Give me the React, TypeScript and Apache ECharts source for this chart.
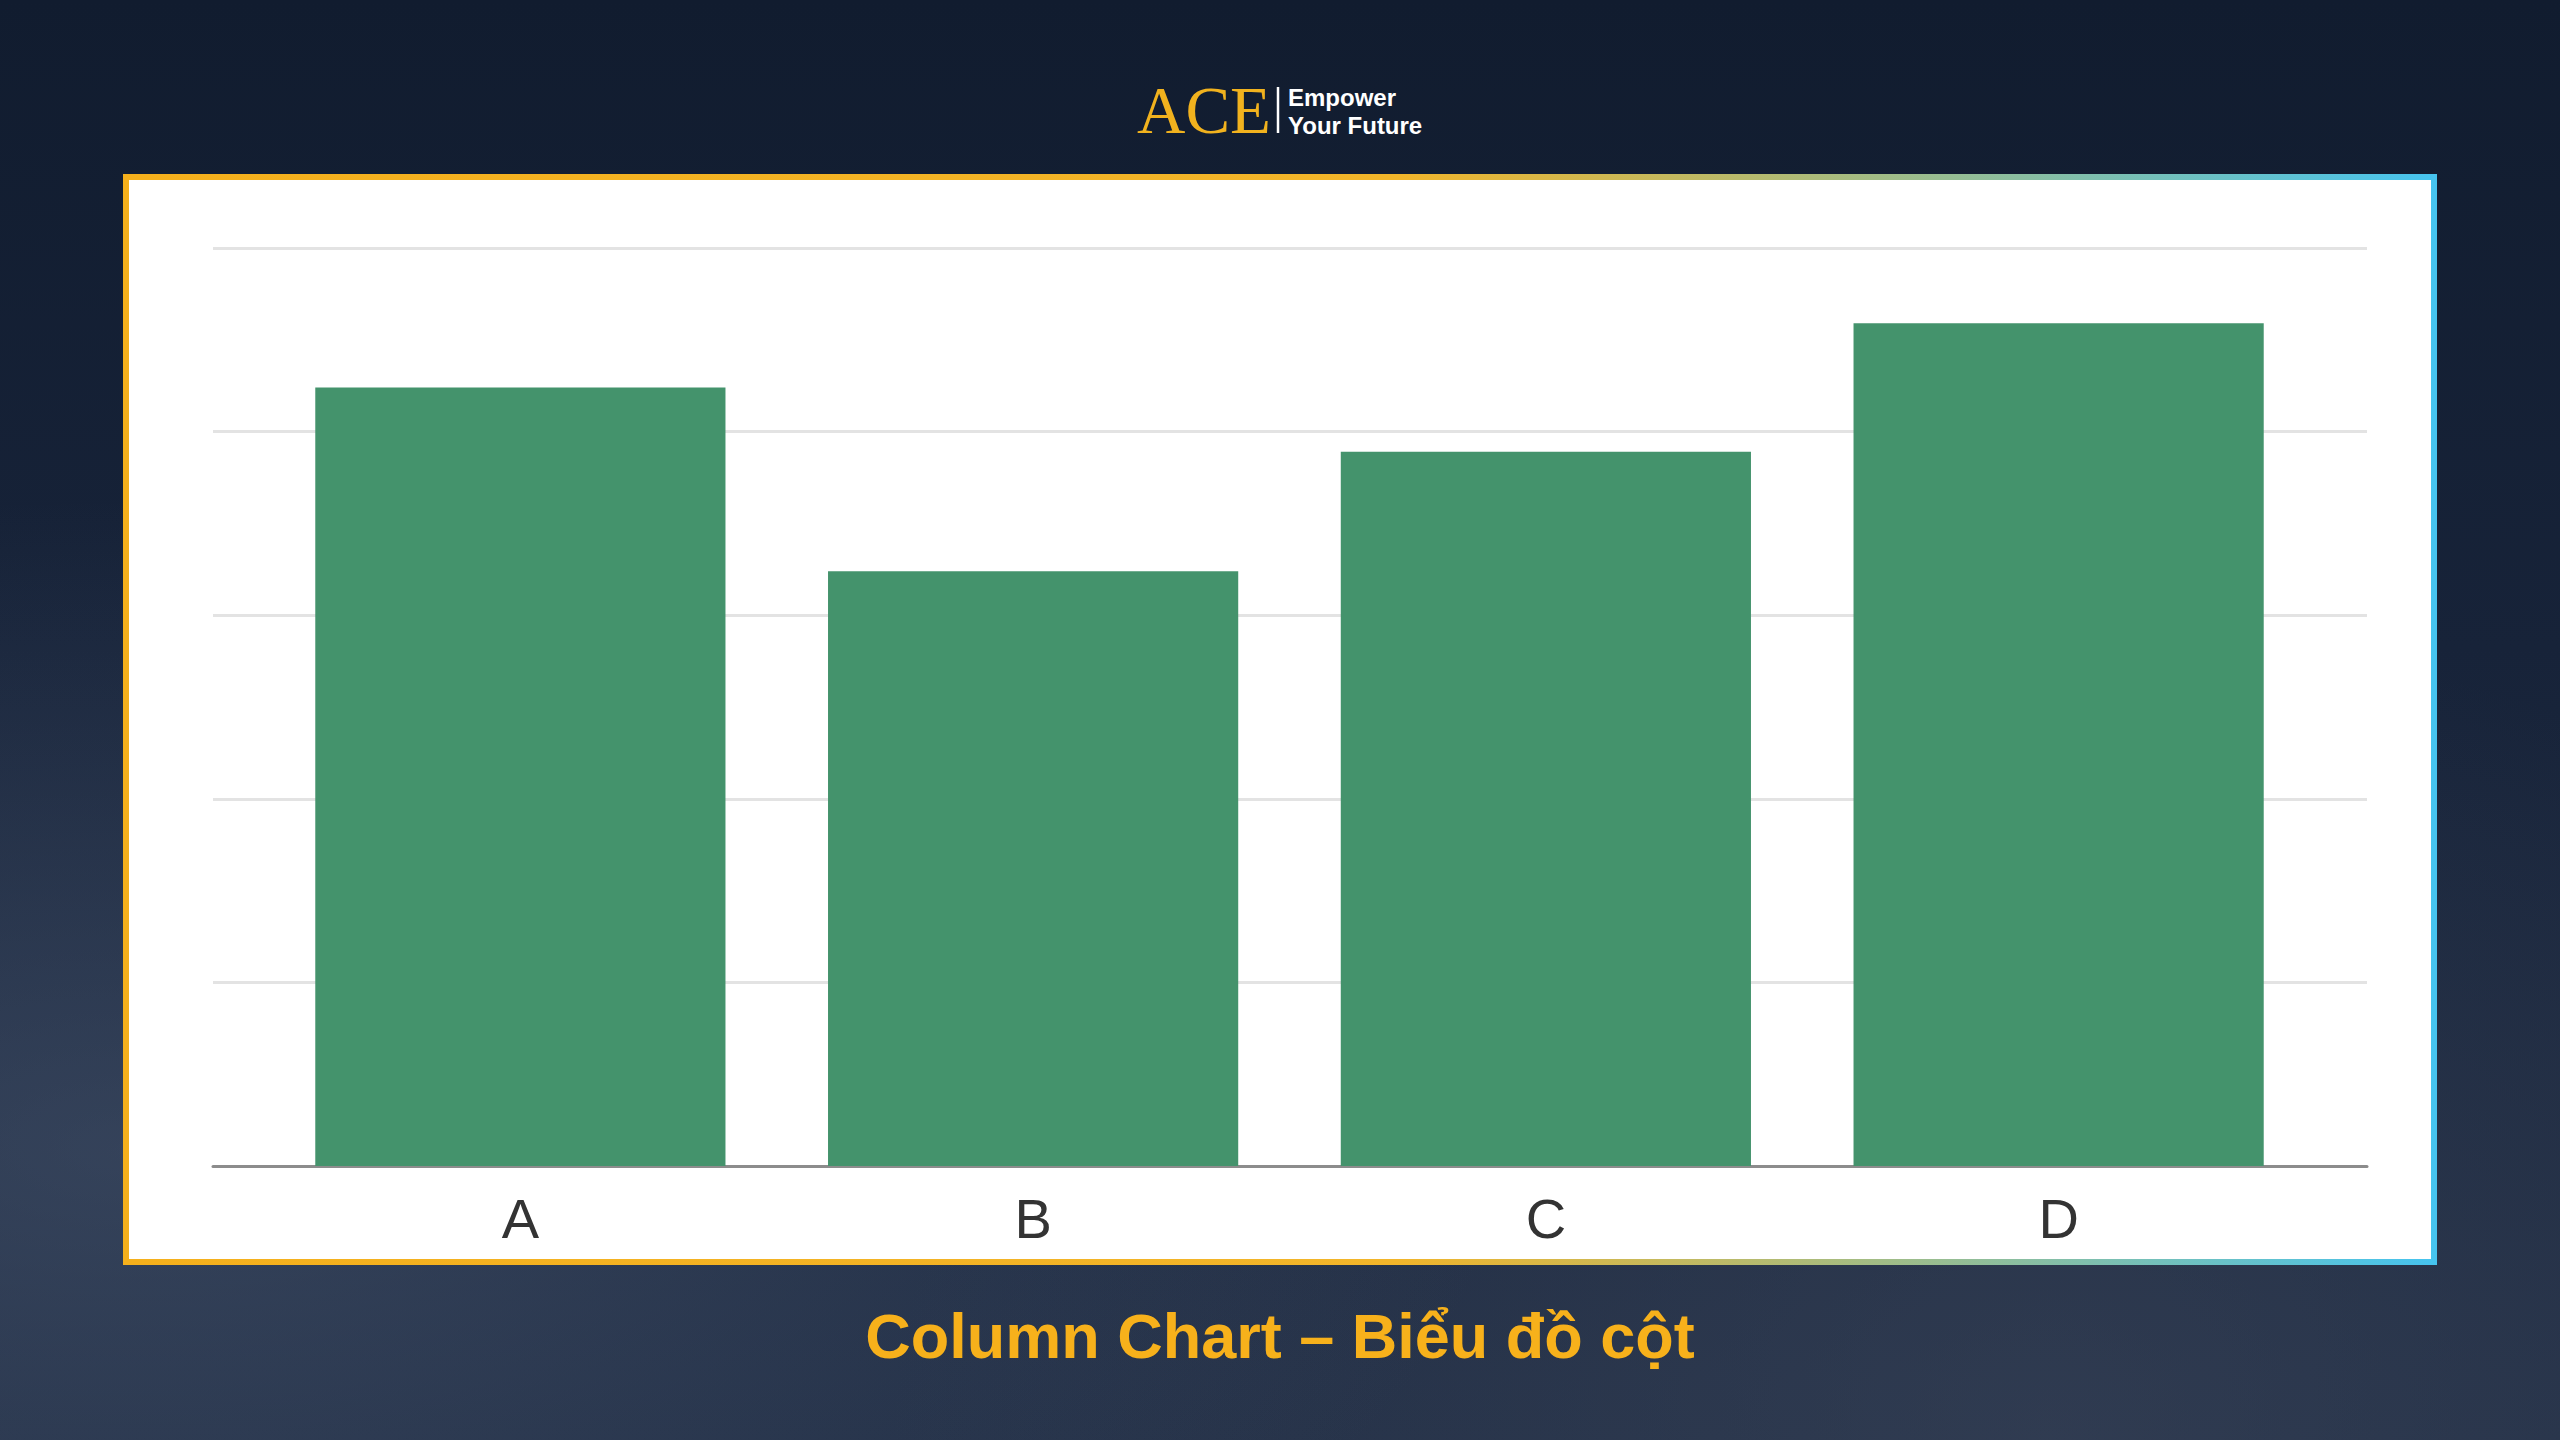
import React, { useEffect, useRef } from "react";
import * as echarts from "echarts";

const categories = ["A", "B", "C", "D"];
const values = [42.4, 32.4, 38.9, 45.9];
const yMin = 0;
const yMax = 50;
const yInterval = 10;
const titleText = "Column Chart – Biểu đồ cột";
const logoMain = "ACE";
const logoLine1 = "Empower";
const logoLine2 = "Your Future";

export default function App() {
  const ref = useRef<HTMLDivElement>(null);
  useEffect(() => {
    if (!ref.current) return;
    const chart = echarts.init(ref.current, null, { renderer: "svg" });
    const frameGradient = new echarts.graphic.LinearGradient(0, 0, 1, 0, [
      { offset: 0, color: "#f5b01c" },
      { offset: 0.55, color: "#f2b52a" },
      { offset: 1, color: "#46c4ef" },
    ]);
    chart.setOption({
      animation: false,
      backgroundColor: "transparent",
      graphic: [
        {
          type: "rect",
          z: -1,
          shape: { x: 126, y: 177, width: 2308, height: 1085 },
          style: { fill: "#ffffff", stroke: frameGradient, lineWidth: 6 },
        },
        {
          type: "text",
          x: 1137,
          y: 110,
          style: {
            text: logoMain,
            fill: "#f1b21e",
            font: "67px 'Liberation Serif', 'DejaVu Serif', serif",
            verticalAlign: "middle",
            align: "left",
          },
        },
        {
          type: "line",
          shape: { x1: 1278, y1: 87, x2: 1278, y2: 133 },
          style: { stroke: "#ffffff", lineWidth: 2.5 },
        },
        {
          type: "text",
          x: 1288,
          y: 97,
          style: {
            text: logoLine1,
            fill: "#ffffff",
            font: "bold 24px 'Liberation Sans', Arial, sans-serif",
            verticalAlign: "middle",
            align: "left",
          },
        },
        {
          type: "text",
          x: 1288,
          y: 125,
          style: {
            text: logoLine2,
            fill: "#ffffff",
            font: "bold 24px 'Liberation Sans', Arial, sans-serif",
            verticalAlign: "middle",
            align: "left",
          },
        },
        {
          type: "text",
          x: 1280,
          y: 1336,
          style: {
            text: titleText,
            fill: "#f7b11b",
            font: "bold 63px 'Liberation Sans', Arial, sans-serif",
            verticalAlign: "middle",
            align: "center",
          },
        },
      ],
      grid: [
        { left: 213, right: 193, top: 248, bottom: 274 },
        { left: 264, right: 245, top: 248, bottom: 274 },
      ],
      xAxis: [
        {
          gridIndex: 0,
          type: "value",
          min: 0,
          max: 1,
          axisLine: { show: true, lineStyle: { color: "#8c8c8c", width: 3 } },
          axisTick: { show: false },
          axisLabel: { show: false },
          splitLine: { show: false },
        },
        {
          gridIndex: 1,
          type: "category",
          data: categories,
          axisLine: { show: false },
          axisTick: { show: false },
          axisLabel: {
            color: "#333333",
            fontSize: 56,
            fontFamily: "'Liberation Sans', Arial, sans-serif",
            margin: 24,
          },
        },
      ],
      yAxis: [
        {
          gridIndex: 0,
          type: "value",
          min: yMin,
          max: yMax,
          interval: yInterval,
          axisLine: { show: false },
          axisTick: { show: false },
          axisLabel: { show: false },
          splitLine: { show: true, lineStyle: { color: "#e3e3e3", width: 3 } },
        },
        {
          gridIndex: 1,
          type: "value",
          min: yMin,
          max: yMax,
          interval: yInterval,
          show: false,
          splitLine: { show: false },
        },
      ],
      series: [
        {
          type: "bar",
          xAxisIndex: 1,
          yAxisIndex: 1,
          data: values,
          barCategoryGap: "20%",
          itemStyle: { color: "#44936c" },
          z: 3,
        },
      ],
    });
    return () => chart.dispose();
  }, []);
  return (
    <div
      style={{
        position: "absolute",
        left: 0,
        top: 0,
        width: 2560,
        height: 1440,
        background:
          "radial-gradient(ellipse at 5% 80%, rgba(80,95,120,0.45) 0%, rgba(80,95,120,0) 40%), radial-gradient(ellipse at 80% 100%, rgba(65,75,95,0.45) 0%, rgba(65,75,95,0) 40%), linear-gradient(180deg, #111c2f 0%, #172339 45%, #222f46 100%)",
      }}
    >
      <div ref={ref} style={{ width: 2560, height: 1440 }} />
    </div>
  );
}
